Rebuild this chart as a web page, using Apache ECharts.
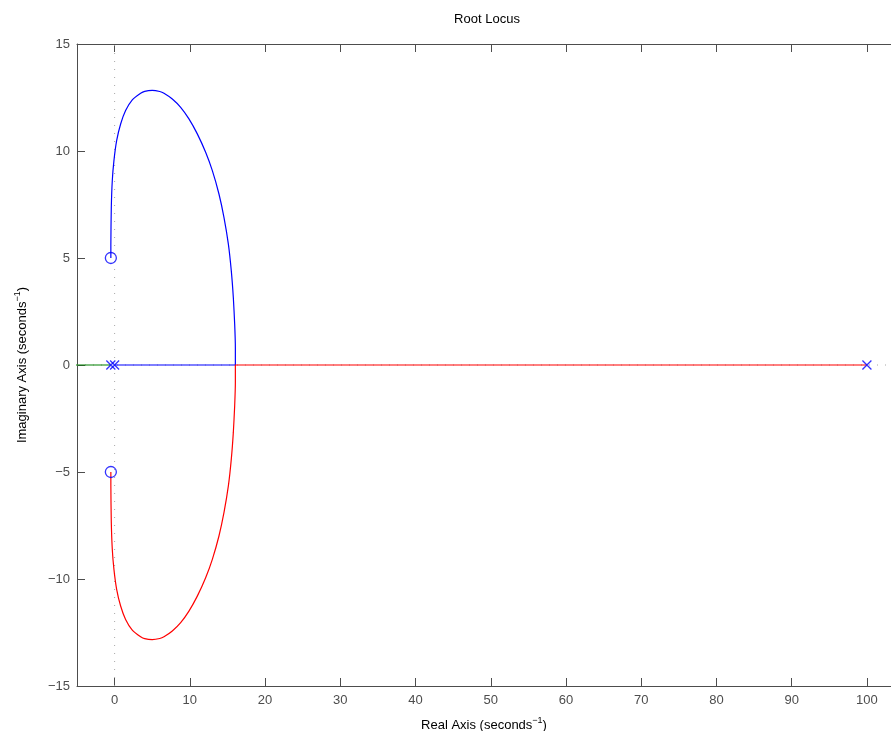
<!DOCTYPE html>
<html>
<head>
<meta charset="utf-8">
<title>Root Locus</title>
<script src="https://cdn.jsdelivr.net/npm/echarts@6/dist/echarts.min.js"></script>
<style>
  html, body { margin: 0; padding: 0; background: #fff; }
  #chart { width: 891px; height: 731px; }
</style>
</head>
<body>
<div id="chart"></div>
<script>
// Tick positions
const xTicks = [0, 10, 20, 30, 40, 50, 60, 70, 80, 90, 100];
const yTicks = [-15, -10, -5, 0, 5, 10, 15];

// Open-loop poles (x) and zeros (o)
const poleRe = [-0.5, 0, 100];
const poleIm = [0, 0, 0];
const zeroRe = [-0.5, -0.5];
const zeroIm = [5, -5];

// Real-axis breakaway point
const breakRe = 16.05;

// Upper complex branch: from the breakaway point up to the zero at -0.5+5j
const upperRe = [16.05, 16.05, 15.96, 15.78, 15.51, 15.12, 14.54, 13.87, 12.99, 12.10, 10.99, 9.88, 8.78, 7.67, 6.56, 6.0, 5.0, 4.0, 3.46, 2.35, 1.46, 0.80, 0.27, -0.09, -0.31, -0.44, -0.5, -0.5];
const upperIm = [0, 0.81, 1.90, 3.15, 4.40, 5.65, 6.89, 7.99, 9.08, 9.94, 10.80, 11.50, 12.04, 12.43, 12.70, 12.78, 12.83, 12.79, 12.70, 12.39, 11.89, 11.26, 10.48, 9.55, 8.61, 7.36, 5.6, 5.0];

// Lower complex branch: from the breakaway point down to the zero at -0.5-5j
const lowerRe = [16.05, 16.05, 15.96, 15.78, 15.51, 15.12, 14.54, 13.87, 12.99, 12.10, 10.99, 9.88, 8.78, 7.67, 6.56, 6.0, 5.0, 4.0, 3.46, 2.35, 1.46, 0.80, 0.27, -0.09, -0.31, -0.44, -0.5, -0.5];
const lowerIm = [0, -0.81, -1.90, -3.15, -4.40, -5.65, -6.89, -7.99, -9.08, -9.94, -10.80, -11.50, -12.04, -12.43, -12.70, -12.78, -12.83, -12.79, -12.70, -12.39, -11.89, -11.26, -10.48, -9.55, -8.61, -7.36, -5.6, -5.0];

// Branch heading to minus infinity along the real axis
const leftRe = [-0.5, -6];
const leftIm = [0, 0];

const zip = (a, b) => a.map((v, i) => [v, b[i]]);

// Blue branch: pole at 0 -> breakaway -> upper zero
const blueBranch = [[poleRe[1], 0], [breakRe, 0]].concat(zip(upperRe, upperIm).slice(1));
// Red branch: pole at 100 -> breakaway -> lower zero
const redBranch = [[poleRe[2], 0], [breakRe, 0]].concat(zip(lowerRe, lowerIm).slice(1));
const greenBranch = zip(leftRe, leftIm);

const FONT = 'Liberation Sans, Arial, Helvetica, sans-serif';
const AXIS_COLOR = '#4d4d4d';
const xMin = -5, xMax = 103.2, yMin = -15, yMax = 15;

// Tick labels use a true minus sign
const fmt = (v) => String(v).replace('-', '\u2212');

const chart = echarts.init(document.getElementById('chart'), null, { renderer: 'canvas' });

const crossPath = 'path://M0,0L10,10M10,0L0,10';

const nameRich = {
  n: { fontFamily: FONT, fontSize: 13, color: '#000', lineHeight: 18 },
  s: { fontFamily: FONT, fontSize: 9, color: '#000', lineHeight: 8, verticalAlign: 'top' }
};

chart.setOption({
  animation: false,
  backgroundColor: '#fff',
  textStyle: { fontFamily: FONT },
  title: {
    text: 'Root Locus',
    left: 482,
    top: 8,
    textAlign: 'center',
    textStyle: { fontFamily: FONT, fontSize: 13, fontWeight: 'normal', color: '#000' }
  },
  grid: { left: 77, top: 44, right: 0, bottom: 45, containLabel: false, outerBoundsMode: 'none' },
  xAxis: [{
    type: 'value',
    min: xMin, max: xMax,
    position: 'bottom',
    name: '{n|Real Axis (seconds}{s|\u22121}{n|)}',
    nameLocation: 'middle',
    nameGap: 30,
    nameTextStyle: { rich: nameRich },
    axisLine: { onZero: false, lineStyle: { color: AXIS_COLOR, width: 1 } },
    axisTick: { inside: true, length: 8, customValues: xTicks, lineStyle: { color: AXIS_COLOR } },
    axisLabel: { customValues: xTicks, formatter: fmt, color: AXIS_COLOR, fontSize: 13, fontFamily: FONT, margin: 8 },
    splitLine: { show: false }
  }, {
    type: 'value',
    min: xMin, max: xMax,
    position: 'top',
    axisLine: { onZero: false, lineStyle: { color: AXIS_COLOR, width: 1 } },
    axisTick: { inside: true, length: 8, customValues: xTicks, lineStyle: { color: AXIS_COLOR } },
    axisLabel: { show: false },
    splitLine: { show: false }
  }],
  yAxis: [{
    type: 'value',
    min: yMin, max: yMax,
    position: 'left',
    name: '{n|Imaginary Axis (seconds}{s|\u22121}{n|)}',
    nameLocation: 'middle',
    nameGap: 46,
    nameRotate: 90,
    nameTextStyle: { rich: nameRich },
    axisLine: { onZero: false, lineStyle: { color: AXIS_COLOR, width: 1 } },
    axisTick: { inside: true, length: 8, customValues: yTicks, lineStyle: { color: AXIS_COLOR } },
    axisLabel: { customValues: yTicks, formatter: fmt, color: AXIS_COLOR, fontSize: 13, fontFamily: FONT, margin: 7 },
    splitLine: { show: false }
  }],
  series: [
    {
      name: 'axis0-v',
      type: 'line',
      xAxisIndex: 0,
      data: [[0, yMin], [0, yMax]],
      symbol: 'none',
      silent: true,
      lineStyle: { color: '#a8a8a8', width: 1, type: [1, 7] },
      z: 1
    },
    {
      name: 'axis0-h',
      type: 'line',
      xAxisIndex: 0,
      data: [[xMin, 0], [xMax, 0]],
      symbol: 'none',
      silent: true,
      lineStyle: { color: '#a8a8a8', width: 1, type: [1, 7] },
      z: 1
    },
    {
      name: 'branch-left',
      type: 'line',
      xAxisIndex: 0,
      data: greenBranch,
      symbol: 'none',
      clip: true,
      lineStyle: { color: '#008000', width: 1.2 },
      z: 2
    },
    {
      name: 'branch-upper',
      type: 'line',
      xAxisIndex: 0,
      data: blueBranch,
      symbol: 'none',
      smooth: 0.2,
      clip: true,
      lineStyle: { color: '#0000ff', width: 1.2 },
      z: 2
    },
    {
      name: 'branch-lower',
      type: 'line',
      xAxisIndex: 0,
      data: redBranch,
      symbol: 'none',
      smooth: 0.2,
      clip: true,
      lineStyle: { color: '#ff0000', width: 1.2 },
      z: 2
    },
    {
      name: 'poles',
      type: 'scatter',
      xAxisIndex: 0,
      data: zip(poleRe, poleIm),
      symbol: crossPath,
      symbolSize: 9,
      itemStyle: { color: 'rgba(0,0,0,0)', borderColor: '#0000ff', borderWidth: 1.3 },
      z: 5
    },
    {
      name: 'zeros',
      type: 'scatter',
      xAxisIndex: 0,
      data: zip(zeroRe, zeroIm),
      symbol: 'circle',
      symbolSize: 11,
      itemStyle: { color: 'rgba(0,0,0,0)', borderColor: '#0000ff', borderWidth: 1.3 },
      z: 5
    }
  ]
});
</script>
</body>
</html>
